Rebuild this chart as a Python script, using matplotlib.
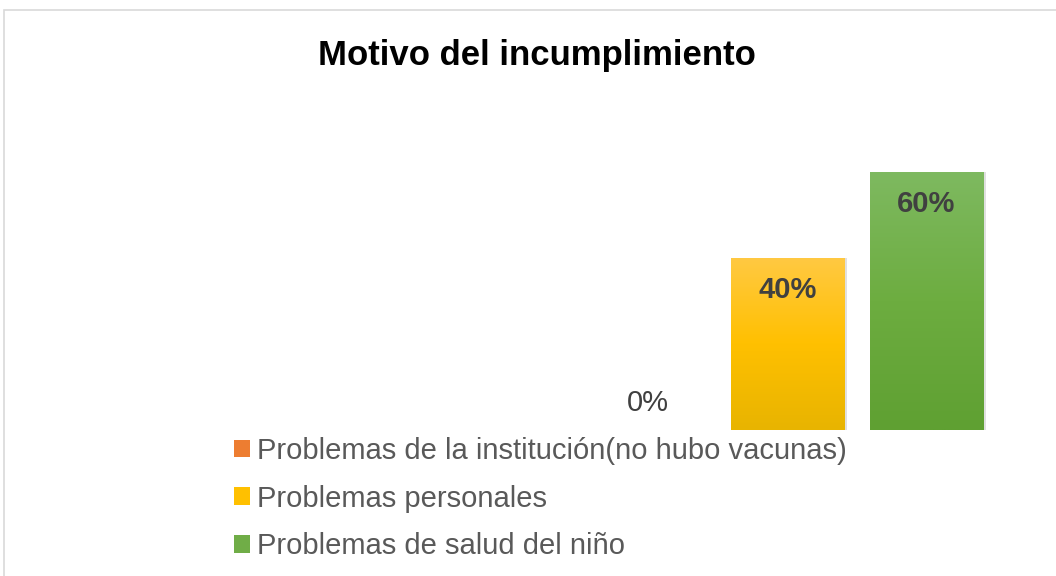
import matplotlib
matplotlib.use("Agg")
import matplotlib.pyplot as plt
import numpy as np
from matplotlib.patches import Patch, Rectangle
from matplotlib.colors import LinearSegmentedColormap

plt.rcParams['font.family'] = ['Liberation Sans', 'DejaVu Sans']

title = "Motivo del incumplimiento"
categories = ["Problemas de la institución(no hubo vacunas)",
              "Problemas personales",
              "Problemas de salud del niño"]
values = [0.0, 0.40, 0.60]
labels = ["0%", "40%", "60%"]
base_colors = ["#ED7D31", "#FFC000", "#70AD47"]
# gradient colours bottom -> middle -> top
grad_colors = [("#D86A20", "#ED7D31", "#F4A070"),
               ("#E8B400", "#FFC000", "#FFC942"),
               ("#5FA032", "#6DAD40", "#7EB960")]

W, H = 1056, 576
fig = plt.figure(figsize=(W / 100, H / 100), dpi=100)
fig.patch.set_facecolor("white")

# outer chart frame
fig.add_artist(Rectangle((4 / W, -0.05), 1.2, 1 - 10 / H + 0.05, transform=fig.transFigure,
                         fill=False, edgecolor="#D9D9D9", linewidth=1.2))

ax = fig.add_axes([537 / W, 146 / H, 500.6 / W, 258 / H])
ax.set_facecolor("none")
x = np.arange(len(values))
bw = 0.813
bars = ax.bar(x, values, width=bw, color="none", edgecolor="none")
for i, (b, v) in enumerate(zip(bars, values)):
    if v <= 0:
        continue
    x0 = b.get_x()
    # subtle shadow
    ax.add_patch(Rectangle((x0 + 0.02, 0), bw, v, facecolor="#000000", alpha=0.12,
                           edgecolor="none", zorder=1))
    cmap = LinearSegmentedColormap.from_list("g%d" % i, grad_colors[i])
    grad = np.linspace(0, 1, 256).reshape(-1, 1)
    ax.imshow(grad, extent=[x0, x0 + bw, 0, v], aspect="auto", cmap=cmap,
              origin="lower", zorder=2)

for i, (v, lab) in enumerate(zip(values, labels)):
    if v <= 0:
        ax.text(x[i], v + 0.063, lab, ha="center", va="center", fontsize=21,
                color="#404040", zorder=3)
    else:
        ax.text(x[i], v - 0.074, lab, ha="center", va="center", fontsize=21,
                fontweight="bold", color="#404040", zorder=3)

ax.set_xlim(-0.8, 2.8)
ax.set_ylim(0, 0.6)
ax.axis("off")

fig.text(537 / W, 1 - 55 / H, title, ha="center", va="center", fontsize=25,
         fontweight="bold", color="black")

handles = [Patch(facecolor=c, edgecolor="none") for c in base_colors]
fig.legend(handles, categories, loc="upper left",
           bbox_to_anchor=(234 / W, 1 - 437 / H), frameon=False, fontsize=21,
           handlelength=0.55, handleheight=0.55, handletextpad=0.24,
           labelspacing=0.67, borderpad=0, borderaxespad=0, labelcolor="#595959")

fig.savefig("out.png", dpi=100)
